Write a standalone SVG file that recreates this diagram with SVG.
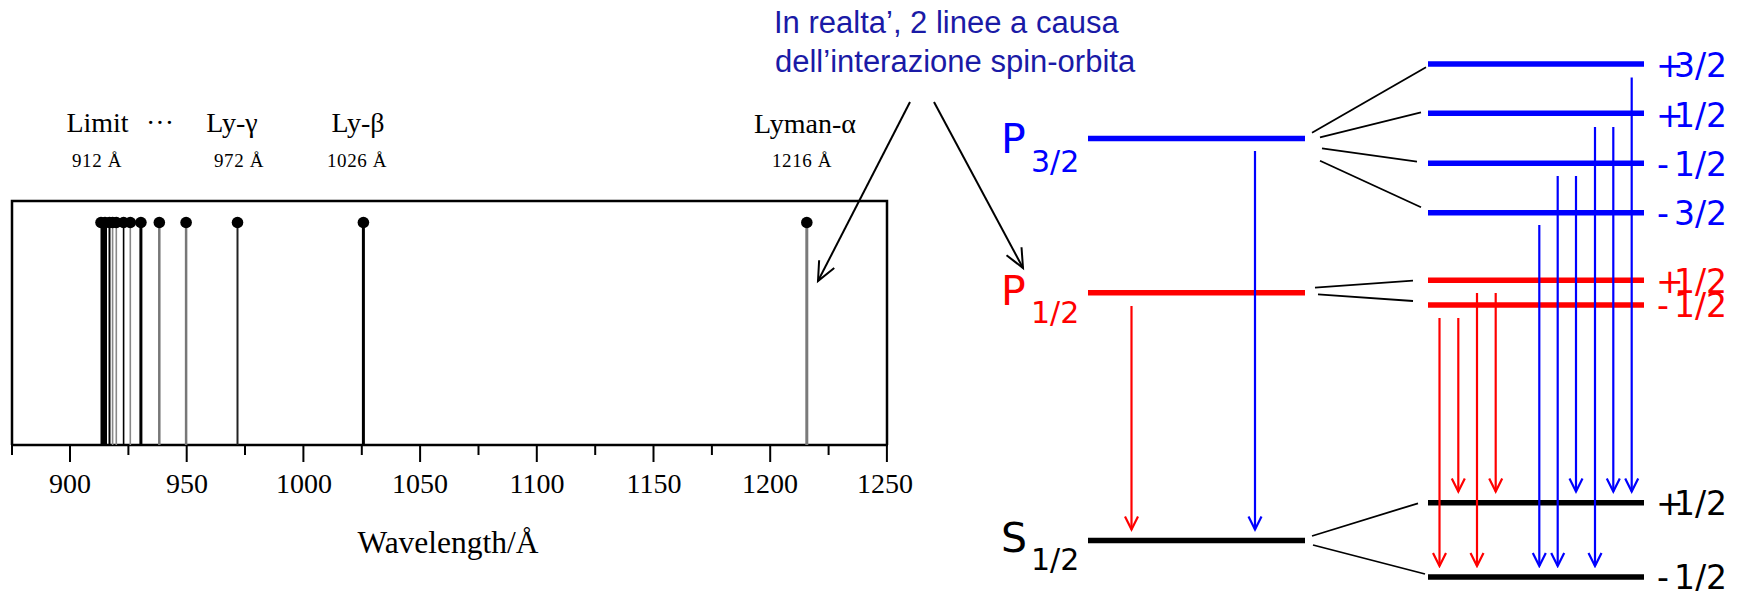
<svg xmlns="http://www.w3.org/2000/svg" width="1742" height="591" viewBox="0 0 1742 591">
<style>
.serif{font-family:"Liberation Serif","Times New Roman",serif;fill:#000}
.lab{font-size:28px;text-anchor:middle}
.val{font-size:19px;text-anchor:middle;letter-spacing:0.6px}
.tick{font-size:28px;text-anchor:middle}
.ax{stroke:#000;stroke-width:2.5;fill:none}
.tk{stroke:#000;stroke-width:2}
.dv{font-family:"DejaVu Sans",sans-serif}
.big{font-size:41px}
.sub{font-size:30px}
.ml{font-size:33px}
.lvl{stroke-width:5.5;fill:none}
.blue{fill:#0000ff}
.red{fill:#ff0000}
.blk{fill:#000}
.fan{stroke:#000;stroke-width:1.8;fill:none}
.tb{stroke:#0000ff;stroke-width:2.2;fill:none}
.tr{stroke:#ff0000;stroke-width:2.2;fill:none}
.note{font-family:"Liberation Sans",Arial,sans-serif;font-size:31px;fill:#1a1aa6}
.ann{stroke:#000;stroke-width:2;fill:none}
</style>
<defs>
<marker id="mb" markerUnits="userSpaceOnUse" viewBox="0 0 16 16" refX="14" refY="8" markerWidth="16" markerHeight="16" orient="auto">
<path d="M1,1.5 L14,8 L1,14.5" fill="none" stroke="#0000ff" stroke-width="2.2"/>
</marker>
<marker id="mr" markerUnits="userSpaceOnUse" viewBox="0 0 16 16" refX="14" refY="8" markerWidth="16" markerHeight="16" orient="auto">
<path d="M1,1.5 L14,8 L1,14.5" fill="none" stroke="#ff0000" stroke-width="2.2"/>
</marker>
<marker id="mk" markerUnits="userSpaceOnUse" viewBox="0 0 24 24" refX="21" refY="12" markerWidth="24" markerHeight="24" orient="auto">
<path d="M2,3.5 L21,12 L2,20.5" fill="none" stroke="#000" stroke-width="2"/>
</marker>
</defs>

<g id="spectrum">
<path class="ax" d="M12,445 L12,201 L887,201 L887,445 M11,445 L888,445"/>
<g class="tk">
<line x1="70" y1="446" x2="70" y2="462"/>
<line x1="186.7" y1="446" x2="186.7" y2="462"/>
<line x1="303.4" y1="446" x2="303.4" y2="462"/>
<line x1="420.1" y1="446" x2="420.1" y2="462"/>
<line x1="536.8" y1="446" x2="536.8" y2="462"/>
<line x1="653.5" y1="446" x2="653.5" y2="462"/>
<line x1="770.2" y1="446" x2="770.2" y2="462"/>
<line x1="886.9" y1="446" x2="886.9" y2="462"/>
<line x1="12" y1="446" x2="12" y2="455"/>
<line x1="128.4" y1="446" x2="128.4" y2="455"/>
<line x1="245" y1="446" x2="245" y2="455"/>
<line x1="361.8" y1="446" x2="361.8" y2="455"/>
<line x1="478.5" y1="446" x2="478.5" y2="455"/>
<line x1="595.2" y1="446" x2="595.2" y2="455"/>
<line x1="711.9" y1="446" x2="711.9" y2="455"/>
<line x1="828.6" y1="446" x2="828.6" y2="455"/>
</g>
<g class="serif tick">
<text x="70" y="493">900</text>
<text x="187" y="493">950</text>
<text x="304" y="493">1000</text>
<text x="420" y="493">1050</text>
<text x="537" y="493">1100</text>
<text x="654" y="493">1150</text>
<text x="770" y="493">1200</text>
<text x="885" y="493">1250</text>
</g>
<text class="serif" x="448" y="553" font-size="31.5" text-anchor="middle">Wavelength/Å</text>
<g id="lines">
<line x1="806.8" y1="222" x2="806.8" y2="445" stroke="#7a7a7a" stroke-width="3"/>
<line x1="363.4" y1="222" x2="363.4" y2="445" stroke="#000" stroke-width="3"/>
<line x1="237.5" y1="222" x2="237.5" y2="445" stroke="#222" stroke-width="2"/>
<line x1="186.1" y1="222" x2="186.1" y2="445" stroke="#777" stroke-width="2.5"/>
<line x1="159.3" y1="222" x2="159.3" y2="445" stroke="#777" stroke-width="2.5"/>
<line x1="140.9" y1="222" x2="140.9" y2="445" stroke="#000" stroke-width="3"/>
<line x1="130.3" y1="222" x2="130.3" y2="445" stroke="#888" stroke-width="1.6"/>
<line x1="123.6" y1="222" x2="123.6" y2="445" stroke="#000" stroke-width="1.6"/>
<line x1="116.3" y1="222" x2="116.3" y2="445" stroke="#888" stroke-width="1.6"/>
<line x1="112.6" y1="222" x2="112.6" y2="445" stroke="#888" stroke-width="1.6"/>
<line x1="109.5" y1="222" x2="109.5" y2="445" stroke="#000" stroke-width="2"/>
<rect x="100.5" y="222" width="6.5" height="223" fill="#000"/>
</g>
<g id="dots" fill="#000">
<circle cx="806.8" cy="222.5" r="5.8"/>
<circle cx="363.4" cy="222.5" r="5.8"/>
<circle cx="237.5" cy="222.5" r="5.8"/>
<circle cx="186.1" cy="222.5" r="5.8"/>
<circle cx="159.3" cy="222.5" r="5.8"/>
<circle cx="140.9" cy="222.5" r="5.8"/>
<circle cx="130.3" cy="222.5" r="5.8"/>
<circle cx="123.6" cy="222.5" r="5.8"/>
<circle cx="116.3" cy="222.5" r="5.8"/>
<circle cx="112.6" cy="222.5" r="5.8"/>
<circle cx="109.5" cy="222.5" r="5.8"/>
<circle cx="105" cy="222.5" r="5.8"/>
<circle cx="101" cy="222.5" r="5.8"/>
</g>
<g class="serif">
<text class="lab" x="97.5" y="132">Limit</text>
<text class="lab" x="160" y="132">···</text>
<text class="lab" x="232" y="132">Ly-γ</text>
<text class="lab" x="358" y="132">Ly-β</text>
<text class="lab" x="805" y="133">Lyman-α</text>
<text class="val" x="97" y="167">912 Å</text>
<text class="val" x="239" y="167">972 Å</text>
<text class="val" x="357" y="167">1026 Å</text>
<text class="val" x="802" y="167">1216 Å</text>
</g>
</g>

<g id="note">
<text class="note" x="774" y="33">In realta’, 2 linee a causa</text>
<text class="note" x="775" y="72">dell’interazione spin-orbita</text>
</g>

<g id="level-P32">
<line class="lvl" x1="1088" y1="138.5" x2="1305" y2="138.5" stroke="#0000ff"/>
<text class="dv blue" x="1001" y="153"><tspan class="big">P</tspan></text>
<text class="dv blue sub" x="1031" y="172">3/2</text>
</g>
<g id="level-P12">
<line class="lvl" x1="1088" y1="292.7" x2="1305" y2="292.7" stroke="#ff0000"/>
<text class="dv red big" x="1001" y="305">P</text>
<text class="dv red sub" x="1031" y="323">1/2</text>
</g>
<g id="level-S12">
<line class="lvl" x1="1088" y1="540.5" x2="1305" y2="540.5" stroke="#000"/>
<text class="dv blk big" x="1001" y="552">S</text>
<text class="dv blk sub" x="1031" y="570">1/2</text>
</g>

<g id="sub-P32-p32">
<line class="lvl" x1="1428" y1="64" x2="1644" y2="64" stroke="#0000ff"/>
<text class="dv blue ml" y="77"><tspan x="1656">+</tspan><tspan x="1674">3/2</tspan></text>
</g>
<g id="sub-P32-p12">
<line class="lvl" x1="1428" y1="113.3" x2="1644" y2="113.3" stroke="#0000ff"/>
<text class="dv blue ml" y="127"><tspan x="1656">+</tspan><tspan x="1674">1/2</tspan></text>
</g>
<g id="sub-P32-m12">
<line class="lvl" x1="1428" y1="163.3" x2="1644" y2="163.3" stroke="#0000ff"/>
<text class="dv blue ml" y="176"><tspan x="1657">- </tspan><tspan x="1674">1/2</tspan></text>
</g>
<g id="sub-P32-m32">
<line class="lvl" x1="1428" y1="212.7" x2="1644" y2="212.7" stroke="#0000ff"/>
<text class="dv blue ml" y="225"><tspan x="1657">- </tspan><tspan x="1674">3/2</tspan></text>
</g>
<g id="sub-P12-p12">
<line class="lvl" x1="1428" y1="280.3" x2="1644" y2="280.3" stroke="#ff0000"/>
<text class="dv red ml" y="293"><tspan x="1656">+</tspan><tspan x="1674">1/2</tspan></text>
</g>
<g id="sub-P12-m12">
<line class="lvl" x1="1428" y1="305" x2="1644" y2="305" stroke="#ff0000"/>
<text class="dv red ml" y="317"><tspan x="1657">- </tspan><tspan x="1674">1/2</tspan></text>
</g>
<g id="sub-S12-p12">
<line class="lvl" x1="1428" y1="502.7" x2="1644" y2="502.7" stroke="#000"/>
<text class="dv blk ml" y="515"><tspan x="1656">+</tspan><tspan x="1674">1/2</tspan></text>
</g>
<g id="sub-S12-m12">
<line class="lvl" x1="1428" y1="577" x2="1644" y2="577" stroke="#000"/>
<text class="dv blk ml" y="589"><tspan x="1657">- </tspan><tspan x="1674">1/2</tspan></text>
</g>

<g id="connectors">
<g id="fans">
<line class="fan" x1="1312" y1="132.7" x2="1426" y2="67.3"/>
<line class="fan" x1="1320" y1="137.3" x2="1421" y2="112.3"/>
<line class="fan" x1="1322" y1="148.3" x2="1417" y2="161.7"/>
<line class="fan" x1="1320" y1="160.7" x2="1421" y2="207.3"/>
<line class="fan" x1="1315" y1="287.7" x2="1413" y2="280.7"/>
<line class="fan" x1="1318" y1="294.3" x2="1413" y2="301"/>
<line class="fan" x1="1312" y1="536" x2="1418" y2="503.3"/>
<line class="fan" x1="1313" y1="545" x2="1425" y2="574"/>
</g>
<g id="transitions">
<line class="tr" x1="1131.5" y1="306" x2="1131.5" y2="529.5" marker-end="url(#mr)"/>
<line class="tb" x1="1255" y1="151" x2="1255" y2="529.5" marker-end="url(#mb)"/>
<line class="tr" x1="1439.5" y1="318" x2="1439.5" y2="566" marker-end="url(#mr)"/>
<line class="tr" x1="1458.3" y1="318" x2="1458.3" y2="491.5" marker-end="url(#mr)"/>
<line class="tr" x1="1477" y1="293" x2="1477" y2="566" marker-end="url(#mr)"/>
<line class="tr" x1="1495.7" y1="293" x2="1495.7" y2="491.5" marker-end="url(#mr)"/>
<line class="tb" x1="1539.3" y1="225" x2="1539.3" y2="566" marker-end="url(#mb)"/>
<line class="tb" x1="1557.7" y1="176" x2="1557.7" y2="566" marker-end="url(#mb)"/>
<line class="tb" x1="1576" y1="176" x2="1576" y2="491.5" marker-end="url(#mb)"/>
<line class="tb" x1="1595" y1="127" x2="1595" y2="566" marker-end="url(#mb)"/>
<line class="tb" x1="1613.3" y1="127" x2="1613.3" y2="491.5" marker-end="url(#mb)"/>
<line class="tb" x1="1631.7" y1="77.5" x2="1631.7" y2="491.5" marker-end="url(#mb)"/>
</g>
<g id="annotation-arrows">
<line class="ann" x1="910" y1="102" x2="818" y2="281" marker-end="url(#mk)"/>
<line class="ann" x1="934" y1="102" x2="1023" y2="268" marker-end="url(#mk)"/>
</g>
</g>
</svg>
